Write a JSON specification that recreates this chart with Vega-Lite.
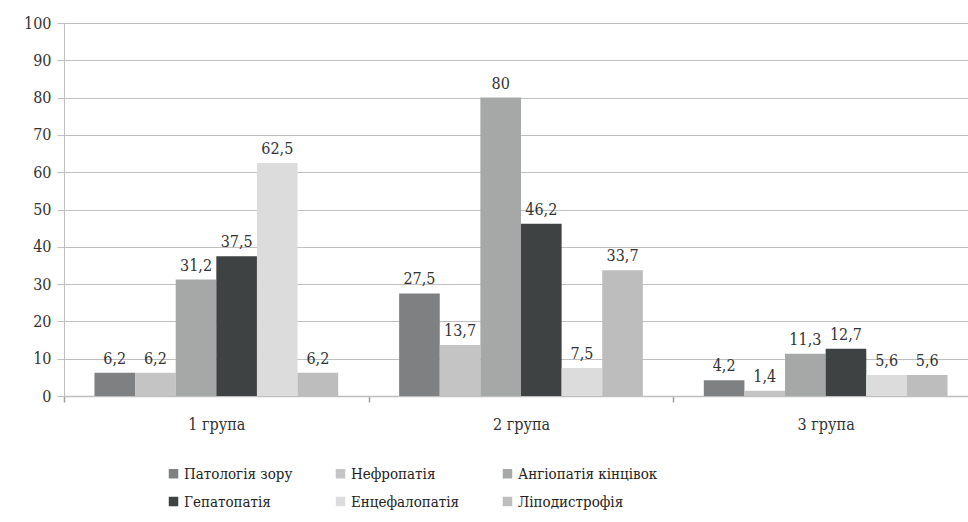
{
  "$schema": "https://vega.github.io/schema/vega-lite/v6.json",
  "width": 904,
  "height": 373,
  "autosize": {"type": "none"},
  "padding": {"left": 64, "top": 23, "right": 0, "bottom": 126},
  "background": "white",
  "config": {
    "locale": {
      "number": {"decimal": ",", "thousands": " ", "grouping": [3], "currency": ["", " ₴"]}
    },
    "view": {"stroke": null},
    "axis": {
      "labelFont": "DejaVu Serif Condensed",
      "labelFontSize": 16,
      "labelColor": "#333333",
      "domainColor": "#bfbfbf",
      "tickColor": "#bfbfbf",
      "gridColor": "#bfbfbf",
      "title": null
    }
  },
  "data": {
    "values": [
      {"group": "1 група", "disease": "Патологія зору", "value": 6.2},
      {"group": "1 група", "disease": "Нефропатія", "value": 6.2},
      {"group": "1 група", "disease": "Ангіопатія кінцівок", "value": 31.2},
      {"group": "1 група", "disease": "Гепатопатія", "value": 37.5},
      {"group": "1 група", "disease": "Енцефалопатія", "value": 62.5},
      {"group": "1 група", "disease": "Ліподистрофія", "value": 6.2},
      {"group": "2 група", "disease": "Патологія зору", "value": 27.5},
      {"group": "2 група", "disease": "Нефропатія", "value": 13.7},
      {"group": "2 група", "disease": "Ангіопатія кінцівок", "value": 80},
      {"group": "2 група", "disease": "Гепатопатія", "value": 46.2},
      {"group": "2 група", "disease": "Енцефалопатія", "value": 7.5},
      {"group": "2 група", "disease": "Ліподистрофія", "value": 33.7},
      {"group": "3 група", "disease": "Патологія зору", "value": 4.2},
      {"group": "3 група", "disease": "Нефропатія", "value": 1.4},
      {"group": "3 група", "disease": "Ангіопатія кінцівок", "value": 11.3},
      {"group": "3 група", "disease": "Гепатопатія", "value": 12.7},
      {"group": "3 група", "disease": "Енцефалопатія", "value": 5.6},
      {"group": "3 група", "disease": "Ліподистрофія", "value": 5.6}
    ]
  },
  "encoding": {
    "x": {
      "field": "group",
      "type": "nominal",
      "sort": null,
      "scale": {"range": [0, 914], "paddingInner": 0, "paddingOuter": 0},
      "axis": {
        "labelAngle": 0,
        "ticks": true,
        "tickBand": "extent",
        "tickExtra": true,
        "tickSize": 6,
        "tickWidth": 1.5,
        "tickColor": "#a0a0a0",
        "labelPadding": 14,
        "domainWidth": 1.5
      }
    },
    "xOffset": {
      "field": "disease",
      "type": "nominal",
      "sort": ["Патологія зору", "Нефропатія", "Ангіопатія кінцівок", "Гепатопатія", "Енцефалопатія", "Ліподистрофія"],
      "scale": {"paddingInner": 0, "paddingOuter": 0.75}
    },
    "y": {
      "field": "value",
      "type": "quantitative",
      "scale": {"domain": [0, 100], "nice": false},
      "axis": {
        "values": [0, 10, 20, 30, 40, 50, 60, 70, 80, 90, 100],
        "tickSize": 7,
        "labelPadding": 6,
        "domain": true,
        "grid": true
      }
    }
  },
  "layer": [
    {
      "mark": {"type": "bar"},
      "encoding": {
        "color": {
          "field": "disease",
          "type": "nominal",
          "scale": {
            "domain": ["Патологія зору", "Нефропатія", "Ангіопатія кінцівок", "Гепатопатія", "Енцефалопатія", "Ліподистрофія"],
            "range": ["#7f8081", "#c4c4c4", "#a6a7a7", "#3f4243", "#dcdcdc", "#bebdbe"]
          },
          "legend": {
            "title": null,
            "orient": "none",
            "legendX": 102,
            "legendY": 443,
            "direction": "horizontal",
            "columns": 3,
            "columnPadding": 40,
            "rowPadding": 12,
            "symbolType": "square",
            "symbolSize": 90,
            "symbolStrokeWidth": 0,
            "labelFont": "DejaVu Serif Condensed",
            "labelFontSize": 15,
            "labelColor": "#222222",
            "labelOffset": 3,
            "labelLimit": 300
          }
        }
      }
    },
    {
      "mark": {"type": "text", "baseline": "alphabetic", "dy": -9, "fontSize": 16, "font": "DejaVu Serif Condensed", "color": "#333333"},
      "encoding": {
        "text": {"field": "value", "type": "quantitative", "format": ".1~f"}
      }
    }
  ]
}
